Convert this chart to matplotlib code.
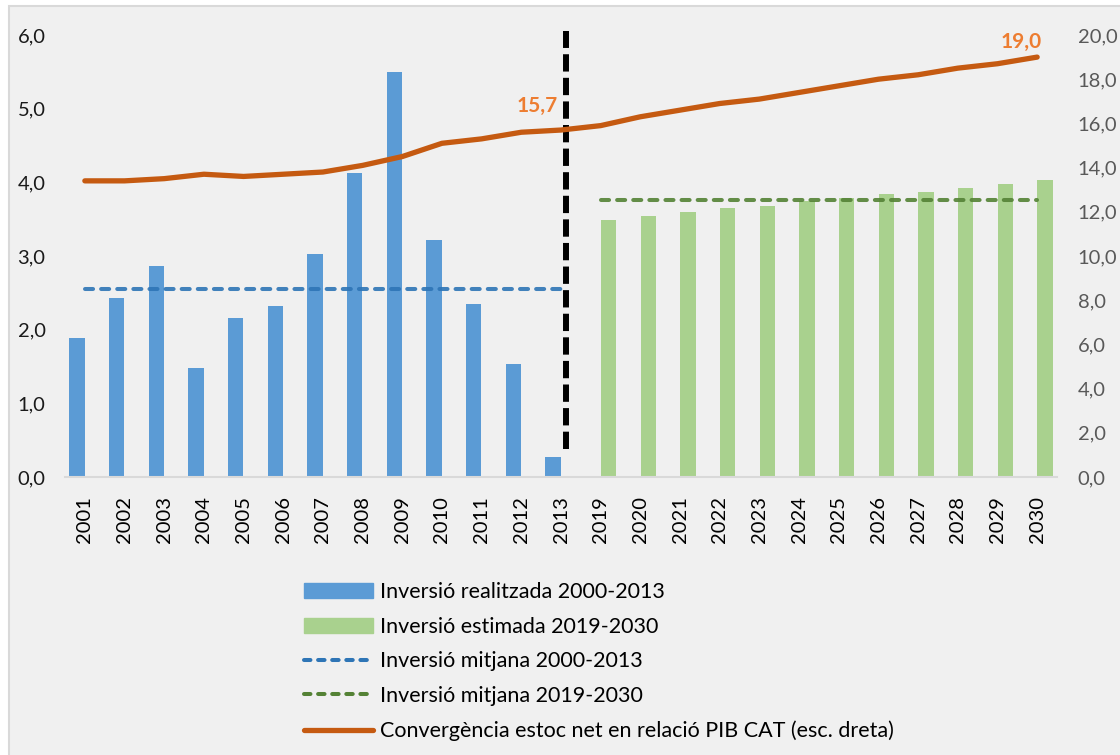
import matplotlib
matplotlib.use("Agg")
import matplotlib.pyplot as plt
import matplotlib.patches as mpatches
from matplotlib.lines import Line2D
import numpy as np

plt.rcParams['font.family'] = ['Lato', 'DejaVu Sans']

# inversio (esc. esquerra) i convergencia estoc net (esc. dreta)
years_real = ['2001', '2002', '2003', '2004', '2005', '2006', '2007',
              '2008', '2009', '2010', '2011', '2012', '2013']
years_est = ['2019', '2020', '2021', '2022', '2023', '2024',
             '2025', '2026', '2027', '2028', '2029', '2030']
inv_real = [1.89, 2.43, 2.87, 1.48, 2.16, 2.32, 3.03,
            4.12, 5.50, 3.22, 2.35, 1.54, 0.27]
inv_est = [3.49, 3.54, 3.60, 3.65, 3.68, 3.74,
           3.79, 3.84, 3.87, 3.92, 3.98, 4.03]
conv = [13.4, 13.4, 13.5, 13.7, 13.6, 13.7, 13.8, 14.1, 14.5, 15.1, 15.3, 15.6, 15.7,
        15.9, 16.3, 16.6, 16.9, 17.1, 17.4, 17.7, 18.0, 18.2, 18.5, 18.7, 19.0]

labels = ['Inversió realitzada 2000-2013', 'Inversió estimada 2019-2030',
          'Inversió mitjana 2000-2013', 'Inversió mitjana 2019-2030',
          'Convergència estoc net en relació PIB CAT (esc. dreta)']

c_blue = '#5B9BD5'
c_green = '#A9D18E'
c_blue_d = '#2E75B6'
c_green_d = '#548235'
c_orange = '#C55A11'
c_lab = '#ED7D31'

W, H = 1120, 755
fig = plt.figure(figsize=(W / 100, H / 100), dpi=100, facecolor='white')
fig.patches.append(mpatches.Rectangle((9 / W, -0.01), 1.0, 1 - 6 / H + 0.01,
                                      transform=fig.transFigure, facecolor='#F0F0F0',
                                      edgecolor='#D9D9D9', lw=1.5, zorder=-5))

ax = fig.add_axes([65 / W, 1 - 477 / H, (1057 - 65) / W, (477 - 35) / H])
ax.set_facecolor('none')
ax2 = ax.twinx()

years = years_real + years_est
n_real = len(years_real)
x = np.arange(len(years))
x_real = x[:n_real]
x_est = x[n_real:]

bw = 0.39
ax.bar(x_real - 0.2, inv_real, bw, color=c_blue, zorder=2)
ax.bar(x_est + 0.2, inv_est, bw, color=c_green, zorder=2)

# mitjanes de cada periode
m_real = np.mean(inv_real)
m_est = np.mean(inv_est)
dash_kw = dict(lw=2.9, dashes=(2.0, 2.0), dash_capstyle='round', zorder=3)
ax.plot([x_real[0], x_real[-1]], [m_real, m_real], color=c_blue_d, alpha=0.9, **dash_kw)
ax.plot([x_est[0], x_est[-1]], [m_est, m_est], color=c_green_d, alpha=0.9, **dash_kw)

# separador entre periodes
ax.plot([x_real[-1] + 0.12] * 2, [0.38, 6.05], color='black', lw=4.3,
        dashes=(2.9, 1.05), clip_on=False, zorder=4)

ax2.plot(x, conv, color=c_orange, lw=3.8, solid_capstyle='round', zorder=5)
ax2.annotate('15,7', (x[n_real - 1], conv[n_real - 1]), xytext=(-2, 10),
             textcoords='offset points', ha='right', va='bottom', color=c_lab,
             fontsize=15, fontweight='bold')
ax2.annotate('19,0', (x[-1], conv[-1]), xytext=(3, 4),
             textcoords='offset points', ha='right', va='bottom', color=c_lab,
             fontsize=15, fontweight='bold')

ax.set_xlim(-0.5, len(years) - 0.5)
ax.set_ylim(0, 6)
ax2.set_ylim(0, 20)
ax.set_xticks(x)
ax.set_xticklabels(years, rotation=90, fontsize=14.5, color='black')
ax.set_yticks(np.arange(0, 6.1, 1))
ax.set_yticklabels(['%.1f' % v for v in np.arange(0, 6.1, 1)], fontsize=14.5, color='#1A1A1A')
ax2.set_yticks(np.arange(0, 20.1, 2))
ax2.set_yticklabels(['%.1f' % v for v in np.arange(0, 20.1, 2)], fontsize=14.5, color='#595959')
for a in (ax, ax2):
    a.set_yticklabels([t.get_text().replace('.', ',') for t in a.get_yticklabels()])
    for s in a.spines.values():
        s.set_visible(False)
ax.spines['bottom'].set_visible(True)
ax.spines['bottom'].set_color('#D9D9D9')
ax.spines['bottom'].set_linewidth(1.5)
ax.tick_params(axis='both', length=0)
ax.tick_params(axis='y', pad=14)
ax.tick_params(axis='x', pad=14)
ax2.tick_params(axis='y', length=0, pad=15)

leg_dash = dict(lw=2.9, dashes=(1.6, 1.9), dash_capstyle='round')
handles = [mpatches.Patch(color=c_blue), mpatches.Patch(color=c_green),
           Line2D([], [], color=c_blue_d, **leg_dash),
           Line2D([], [], color=c_green_d, **leg_dash),
           Line2D([], [], color=c_orange, lw=3.8, solid_capstyle='round')]
fig.legend(handles, labels, loc='upper left', bbox_to_anchor=(304 / W, 1 - 582 / H),
           frameon=False, fontsize=15.5, handlelength=3.2, handletextpad=0.35,
           labelspacing=0.68, borderpad=0, borderaxespad=0)

fig.savefig('out.png', dpi=100, facecolor=fig.get_facecolor())
